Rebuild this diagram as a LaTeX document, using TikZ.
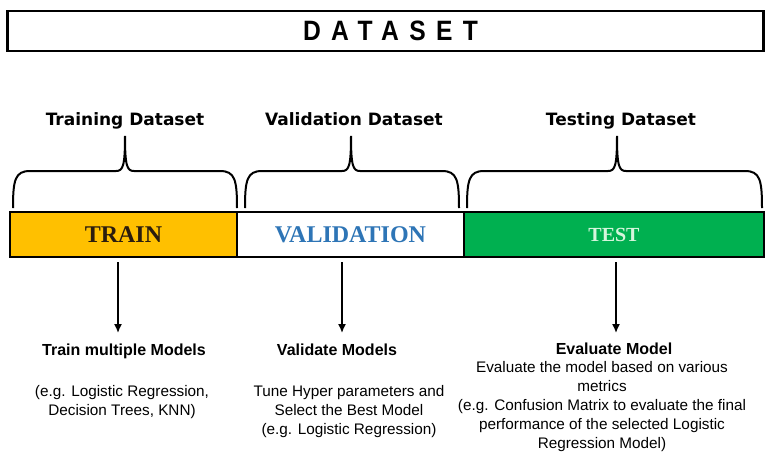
\documentclass[tikz,border=0pt]{standalone}
\usepackage{fontspec}
\setmainfont{Liberation Serif}
\setsansfont{Liberation Sans}
\newfontfamily\labelfont{DejaVu Sans}
\usepackage{graphicx}
\usepackage{tikz}
\usetikzlibrary{arrows.meta}
\usetikzlibrary{calc}
\usetikzlibrary{positioning}

\definecolor{trainorange}{HTML}{FFC000}
\definecolor{testgreen}{HTML}{00B050}
\definecolor{valblue}{HTML}{2E75B6}
\definecolor{trainbrown}{HTML}{2B1D0E}
\definecolor{testmint}{HTML}{D6F5DC}

% curly brace over one part of the bar: left x, tip x, right x
\newcommand{\splitbrace}[3]{%
  \draw[bracepath] (#1,208) .. controls (#1,180) and (#1+2,171) .. (#1+17,171)
    -- (#2-9,171) .. controls (#2-2,171) and (#2,166) .. (#2,136)
    .. controls (#2,166) and (#2+2,171) .. (#2+9,171)
    -- (#3-17,171) .. controls (#3-2,171) and (#3,180) .. (#3,208);}

\begin{document}
\begin{tikzpicture}[x=1pt,y=-1pt,
    part/.style={draw,line width=2pt,outer sep=0pt,inner sep=0pt,minimum height=45pt,
      font=\rmfamily\bfseries\fontsize{24}{24}\selectfont},
    setlabel/.style={font=\labelfont\bfseries\fontsize{17}{20}\selectfont,inner sep=0pt,anchor=base},
    stephead/.style={font=\sffamily\bfseries\fontsize{16}{19}\selectfont,inner sep=0pt,anchor=base},
    stepnote/.style={font=\sffamily\fontsize{15.3}{19}\selectfont,inner sep=0pt,align=center,anchor=base},
    flow/.style={-{Latex[length=9pt,width=8pt]},line width=1.5pt},
    bracepath/.style={line width=2pt}]
  \useasboundingbox (0,0) rectangle (766,458);

  % title box
  \node[draw,line width=2.7pt,minimum width=756pt,minimum height=40pt,inner sep=0pt] (dataset) at (385.5,31) {};
  \node[font=\sffamily\bfseries\fontsize{28}{28}\selectfont,inner sep=0pt] (title) at ([xshift=5pt]dataset.center)
    {\scalebox{0.88}[1]{\addfontfeatures{LetterSpace=42}DATASET}};

  % the split bar
  \node[part,fill=trainorange,text=trainbrown,minimum width=227pt] (train) at (123.5,234.5) {TRAIN};
  \node[part,fill=white,text=valblue,minimum width=227pt,right=0pt of train] (valid) {VALIDATION};
  \node[part,fill=testgreen,text=testmint,minimum width=300pt,right=0pt of valid,
    font=\rmfamily\bfseries\fontsize{20}{20}\selectfont] (test) {TEST};

  % braces and their labels
  \splitbrace{13}{125}{237}
  \splitbrace{245}{351}{459}
  \splitbrace{467}{617}{762}
  \node[setlabel] (trainset) at (125,125) {Training Dataset};
  \node[setlabel] (validset) at (354,125) {Validation Dataset};
  \node[setlabel] (testset) at (621,125) {Testing Dataset};

  % steps (notes are placed by the baseline of their last line)
  \node[stephead] (trainstep) at (124,355) {Train multiple Models};
  \node[stephead] (validstep) at (337,355) {Validate Models};
  \node[stephead] (teststep) at (614,354) {Evaluate Model};
  \node[stepnote] (trainnote) at (122,415) {(e.g. Logistic Regression,\\Decision Trees, KNN)};
  \node[stepnote] (validnote) at (349,434) {Tune Hyper parameters and\\Select the Best Model\\(e.g. Logistic Regression)};
  \node[stepnote] (testnote) at (602,448) {Evaluate the model based on various\\metrics\\(e.g. Confusion Matrix to evaluate the final\\performance of the selected Logistic\\Regression Model)};

  % arrows
  \coordinate (traintip) at (118,333);
  \coordinate (validtip) at (342,333);
  \coordinate (testtip) at (616,333);
  \draw[flow] ([yshift=-5pt]train.south -| traintip) -- (traintip);
  \draw[flow] ([yshift=-5pt]valid.south -| validtip) -- (validtip);
  \draw[flow] ([yshift=-5pt]test.south -| testtip) -- (testtip);
\end{tikzpicture}
\end{document}
